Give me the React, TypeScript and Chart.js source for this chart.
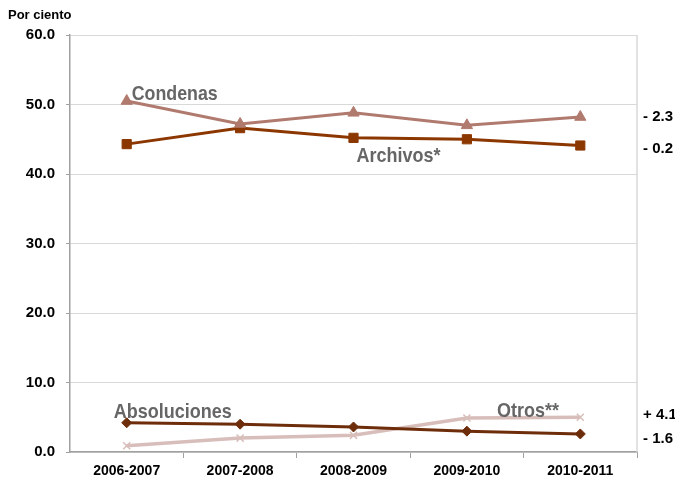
import React, { useEffect, useRef } from "react";
import { Chart, registerables } from "chart.js";

Chart.register(...registerables);

const categories = ["2006-2007", "2007-2008", "2008-2009", "2009-2010", "2010-2011"];
const seriesNames = ["Condenas", "Archivos*", "Absoluciones", "Otros**"];
const condenas = [50.5, 47.2, 48.8, 47.0, 48.2];
const archivos = [44.3, 46.6, 45.2, 45.0, 44.1];
const absoluciones = [4.2, 4.0, 3.6, 3.0, 2.6];
const otros = [0.9, 2.0, 2.4, 4.9, 5.0];
const changeLabels = ["- 2.3", "- 0.2", "- 1.6", "+ 4.1"];
const yTitle = "Por ciento";
const yMin = 0;
const yMax = 60;
const yStep = 10;

const FONT = "Arial, 'Liberation Sans', sans-serif";

const labelPlugin = {
  id: "customLabels",
  afterDatasetsDraw(chart: any) {
    const { ctx, chartArea } = chart;
    const x = chart.scales.x;
    const y = chart.scales.y;
    const series = [condenas, archivos, absoluciones, otros];
    ctx.save();
    // right frame line
    ctx.strokeStyle = "#D9D9D9";
    ctx.lineWidth = 1.5;
    ctx.beginPath();
    ctx.moveTo(chartArea.right, chartArea.top);
    ctx.lineTo(chartArea.right, chartArea.bottom);
    ctx.stroke();

    // axis title
    ctx.fillStyle = "#000";
    ctx.font = `bold 13px ${FONT}`;
    ctx.textAlign = "left";
    ctx.textBaseline = "middle";
    ctx.fillText(yTitle, 8, 15);

    // series names
    const spots = [
      { i: 0, dx: 5, dy: -1, w: 86 },
      { i: 2, dx: 3, dy: 24, w: 84 },
      { i: 0, dx: -13, dy: -5, w: 118 },
      { i: 3, dx: 30, dy: -1, w: 62 },
    ];
    ctx.font = `bold 21px ${FONT}`;
    ctx.fillStyle = "#666666";
    ctx.textBaseline = "alphabetic";
    spots.forEach((s, k) => {
      const px = x.getPixelForValue(s.i);
      const py = y.getPixelForValue(series[k][s.i]);
      ctx.fillText(seriesNames[k], px + s.dx, py + s.dy, s.w);
    });

    // change labels on the right
    const dys = [0, 3, 5, -2];
    ctx.font = `bold 15px ${FONT}`;
    ctx.fillStyle = "#000";
    ctx.textBaseline = "middle";
    series.forEach((d, k) => {
      const py = y.getPixelForValue(d[d.length - 1]);
      ctx.fillText(changeLabels[k], chartArea.right + 6, py + dys[k]);
    });
    ctx.restore();
  },
};

export default function App() {
  const ref = useRef<HTMLCanvasElement>(null);

  useEffect(() => {
    document.body.style.margin = "0";
    if (!ref.current) return;
    const chart = new Chart(ref.current, {
      type: "line",
      data: {
        labels: categories,
        datasets: [
          {
            label: seriesNames[0],
            data: condenas,
            borderColor: "#B07A6E",
            backgroundColor: "#B07A6E",
            borderWidth: 3,
            pointStyle: "triangle",
            pointRadius: 6.5,
            pointBorderWidth: 1,
          },
          {
            label: seriesNames[1],
            data: archivos,
            borderColor: "#8C3700",
            backgroundColor: "#8C3700",
            borderWidth: 3,
            pointStyle: "rect",
            pointRadius: 6.5,
            pointBorderWidth: 1,
          },
          {
            label: seriesNames[2],
            data: absoluciones,
            borderColor: "#6E2D0A",
            backgroundColor: "#6E2D0A",
            borderWidth: 3,
            pointStyle: "rectRot",
            pointRadius: 5,
            pointBorderWidth: 1,
          },
          {
            label: seriesNames[3],
            data: otros,
            borderColor: "#D8BEBA",
            backgroundColor: "#D8BEBA",
            borderWidth: 3.5,
            pointStyle: "crossRot",
            pointRadius: 5,
            pointBorderWidth: 1.5,
          },
        ],
      },
      options: {
        responsive: false,
        animation: false,
        devicePixelRatio: 1,
        layout: { padding: { top: 35, right: 38, left: 0, bottom: 0 } },
        plugins: {
          legend: { display: false },
          tooltip: { enabled: false },
        },
        scales: {
          x: {
            offset: true,
            grid: {
              offset: true,
              drawOnChartArea: false,
              tickLength: 6,
              tickColor: (c: any) =>
                c.index === 0 || c.index >= categories.length ? "rgba(0,0,0,0)" : "#A0A0A0",
            },
            border: { color: "#A0A0A0", width: 1.5 },
            ticks: {
              color: "#000",
              font: { family: FONT, size: 14, weight: "bold" },
              padding: 5,
              maxRotation: 0,
            },
            afterFit: (s: any) => {
              s.height = 30;
            },
          },
          y: {
            min: yMin,
            max: yMax,
            ticks: {
              stepSize: yStep,
              color: "#000",
              font: { family: FONT, size: 15, weight: "bold" },
              padding: 11,
              callback: (v: any) => Number(v).toFixed(1),
            },
            grid: { color: "#D9D9D9", tickColor: "#A0A0A0", tickLength: 4, lineWidth: 1 },
            border: { color: "#A0A0A0", width: 1.5 },
            afterFit: (s: any) => {
              s.width = 70;
            },
          },
        },
      },
      plugins: [labelPlugin],
    } as any);
    return () => chart.destroy();
  }, []);

  return (
    <div style={{ width: 675, height: 482 }}>
      <canvas ref={ref} width={675} height={482} style={{ display: "block" }} />
    </div>
  );
}
